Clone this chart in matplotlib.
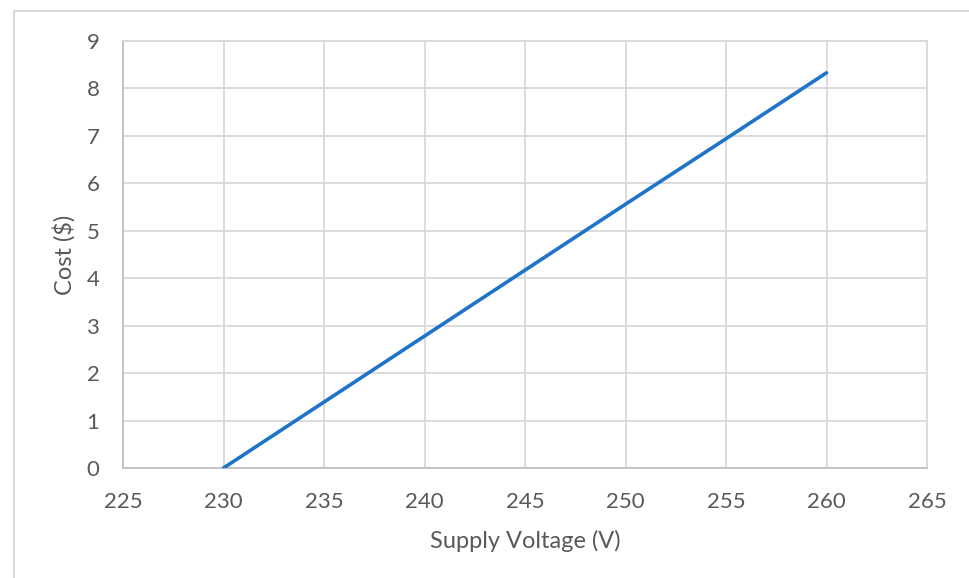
import matplotlib
matplotlib.use("Agg")
import matplotlib.pyplot as plt
from matplotlib.lines import Line2D

voltage = [230, 235, 240, 245, 250, 255, 260]
cost = [0.0, 1.39, 2.78, 4.17, 5.56, 6.94, 8.33]

x_ticks = [225, 230, 235, 240, 245, 250, 255, 260, 265]
y_ticks = [0, 1, 2, 3, 4, 5, 6, 7, 8, 9]

plt.rcParams['font.family'] = ['Lato', 'DejaVu Sans']
txt = '#595959'
grid = '#d9d9d9'

fig = plt.figure(figsize=(9.7, 5.78), dpi=100)
ax = fig.add_axes([123/970, 1-468/578, (927-123)/970, (468-41)/578])

ax.plot(voltage, cost, color='#1f74c9', lw=2.6, solid_capstyle='round', zorder=3)

ax.set_xlim(225, 265)
ax.set_ylim(0, 9)
ax.set_xticks(x_ticks)
ax.set_yticks(y_ticks)
ax.grid(True, color=grid, lw=1.3)
ax.set_axisbelow(True)
for s in ['top', 'right']:
    ax.spines[s].set_color(grid)
    ax.spines[s].set_linewidth(1.3)
for s in ['left', 'bottom']:
    ax.spines[s].set_color('#bfbfbf')
    ax.spines[s].set_linewidth(1.3)
ax.tick_params(length=0, labelsize=16, colors=txt)
ax.tick_params(axis='x', pad=17)
ax.tick_params(axis='y', pad=17)

ax.set_xlabel('Supply Voltage (V)', fontsize=17, color=txt, labelpad=13)
ax.set_ylabel('Cost ($)', fontsize=17, color=txt, labelpad=8)

# outer chart frame (partially cropped in the original)
fig.add_artist(Line2D([14/970, 14/970], [0, 1-11/578], color=grid, lw=1.5))
fig.add_artist(Line2D([14/970, 1], [1-11/578, 1-11/578], color=grid, lw=1.5))

fig.savefig('out.png', dpi=100)
